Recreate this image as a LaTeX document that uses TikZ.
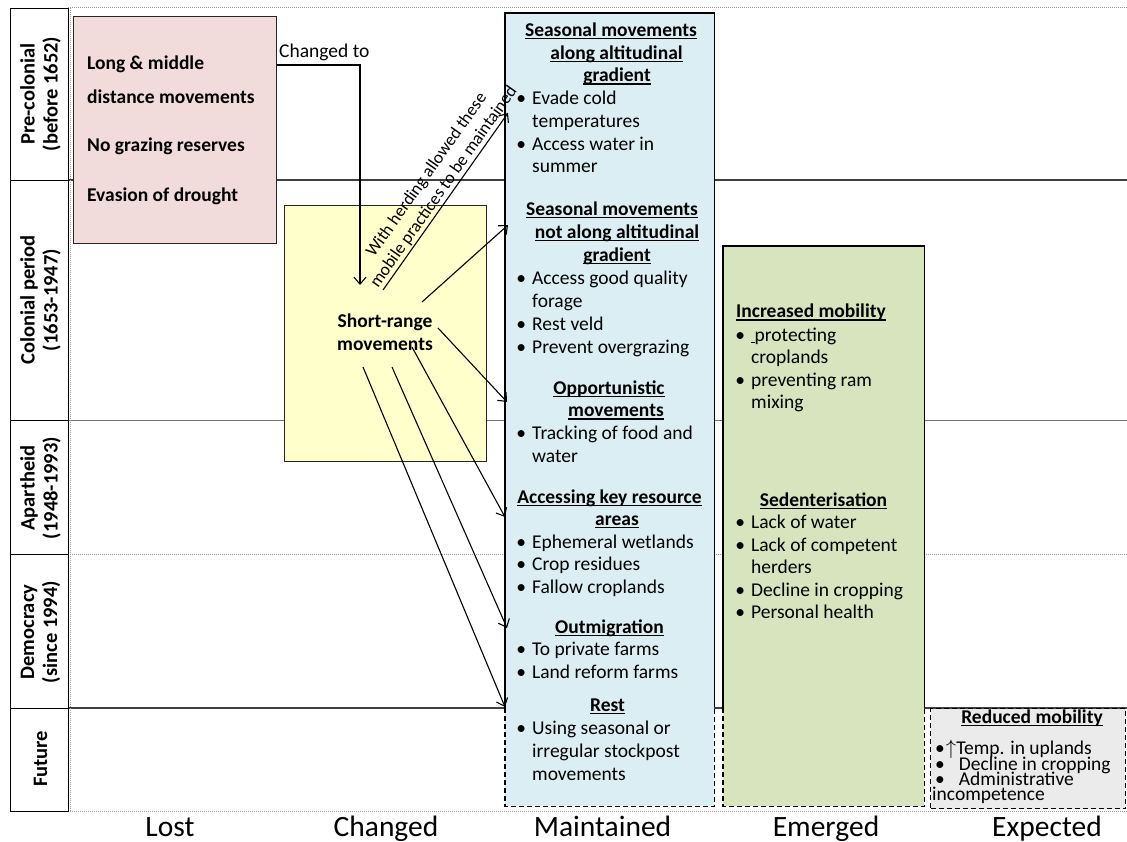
\documentclass[tikz,border=0pt]{standalone}
\usepackage{fontspec}
\setmainfont{Carlito}
\usetikzlibrary{arrows.meta,calc}
\definecolor{pinkf}{HTML}{F2DCDB}
\definecolor{yellf}{HTML}{FFFFCC}
\definecolor{bluef}{HTML}{DBEEF4}
\definecolor{greenf}{HTML}{D7E4BD}
\definecolor{grayf}{HTML}{EBEBEB}
\definecolor{edgec}{HTML}{262626}
\newcommand\ulh[1]{\setbox0=\hbox{#1}\rlap{\rule[-2.8pt]{\wd0}{1.3pt}}\box0}
\newcommand\bul{\llap{\makebox[22pt]{•}}}
\newcommand\fsz{\fontsize{19.5pt}{22.7pt}\selectfont}
\tikzset{
  txt/.style={inner sep=0pt, anchor=base west, font=\fsz},
  btxt/.style={inner sep=0pt, anchor=base west, font=\fsz\bfseries},
  hd/.style={inner sep=0pt, anchor=base, font=\fsz\bfseries},
  collab/.style={inner sep=0pt, anchor=base, font=\fontsize{29.5pt}{32pt}\selectfont},
  perlab/.style={inner sep=0pt, rotate=90, align=center, font=\fontsize{20.5pt}{23pt}\selectfont\bfseries},
  perbox/.style={draw=black, line width=1.3pt, anchor=north west, inner sep=0pt, minimum width=58pt},
  boxs/.style={draw=edgec, line width=1.2pt, anchor=north west, inner sep=0pt},
  fillbox/.style={anchor=north west, inner sep=0pt},
  edgesolid/.style={draw=black, line width=1.3pt},
  edgedash/.style={draw=black, line width=1.2pt, dash pattern=on 5pt off 3pt},
  gridsolid/.style={draw=black!75, line width=1.2pt},
  gridthin/.style={draw=black!55, line width=1pt},
  griddot/.style={draw=black!40, line width=1pt, dash pattern=on 1pt off 1pt},
  arr/.style={-{Straight Barb[length=7pt,width=12pt]}, line width=1.1pt},
}
\begin{document}
\begin{tikzpicture}[x=1pt,y=-1pt]
\useasboundingbox (0,0) rectangle (1127,842);
% grid lines
\draw[griddot] (68,8) -- (1127,8);
\draw[gridsolid] (68,180) -- (1127,180);
\draw[gridthin] (68,420) -- (1127,420);
\draw[griddot] (68,554) -- (1127,554);
\draw[gridsolid] (68,708) -- (1127,708);
\draw[griddot] (68,811) -- (1127,811);
\draw[griddot] (70,8) -- (70,811);
% period labels
\node[perbox, minimum height=172pt] (p1) at (10,8) {};
\node[perbox, minimum height=240pt] (p2) at (10,180) {};
\node[perbox, minimum height=134pt] (p3) at (10,420) {};
\node[perbox, minimum height=154pt] (p4) at (10,554) {};
\node[perbox, minimum height=103pt] (p5) at (10,708) {};
\node[perlab] (pl1) at (40.5,94) {Pre-colonial\\(before 1652)};
\node[perlab] (pl2) at (40.5,300) {Colonial period\\(1653-1947)};
\node[perlab] (pl3) at (40.5,488) {Apartheid\\(1948-1993)};
\node[perlab] (pl4) at (40.5,632) {Democracy\\(since 1994)};
\node[perlab] (pl5) at (40.5,759) {Future};
% boxes
\node[boxs, fill=pinkf, minimum width=203pt, minimum height=227pt] (lost) at (73,16) {};
\node[boxs, fill=yellf, minimum width=202pt, minimum height=256pt] (chg) at (284,205) {};
\node[fillbox, fill=bluef, minimum width=209pt, minimum height=793pt] (mnt) at (505,13) {};
\draw[edgesolid] (mnt.south west |- 0,708) -- (mnt.north west) -- (mnt.north east) -- (mnt.north east |- 0,706);
\draw[edgedash] (mnt.south west |- 0,708) -- (mnt.south west) -- (mnt.south east) -- (mnt.north east |- 0,706);
\node[fillbox, fill=greenf, minimum width=201pt, minimum height=560pt] (emg) at (723,246) {};
\draw[edgesolid] (emg.south west |- 0,708) -- (emg.north west) -- (emg.north east) -- (emg.north east |- 0,708);
\draw[edgedash] (emg.south west |- 0,708) -- (emg.south west) -- (emg.south east) -- (emg.north east |- 0,708);
\node[fillbox, fill=grayf, draw=black, line width=1.2pt, dash pattern=on 5pt off 3pt, minimum width=195pt, minimum height=100pt] (exp) at (930,708) {};
% lost text
\node[btxt] (l1) at (87,70) {Long \& middle};
\node[btxt] (l2) at (87,104) {distance movements};
\node[btxt] (l3) at (87,152) {No grazing reserves};
\node[btxt] (l4) at (87,202) {Evasion of drought};
% changed-to connector
\node[txt] (ctl) at (279,58) {Changed to};
\coordinate (ct) at (360,285);
\draw[arr] (lost.east |- 0,65) -| (ct);
% short-range text
\node[hd] (sr1) at (385,327) {Short-range};
\node[hd] (sr2) at (385,350) {movements};
% short-range arrows
\coordinate (s1) at (383,290);
\coordinate (s2) at (422,302);
\coordinate (s3) at (438,328);
\coordinate (s4) at (412,347);
\coordinate (s5) at (392,367);
\coordinate (s6) at (363,367);
\draw[arr] (s1) -- node[sloped, above=1.5pt, pos=0.55, inner sep=0pt, align=center, font=\fontsize{17.5pt}{21pt}\selectfont] (hl) {With herding allowed these\\mobile practices to be maintained} ($(mnt.north west |- 0,113)+(3,0)$);
\draw[arr] (s2) -- ($(mnt.north west |- 0,225)+(3,0)$);
\draw[arr] (s3) -- ($(mnt.north west |- 0,402)+(2,0)$);
\draw[arr] (s4) -- (mnt.north west |- 0,517);
\draw[arr] (s5) -- ($(mnt.north west |- 0,628)+(2,0)$);
\draw[arr] (s6) -- (mnt.north west |- 0,707);
% maintained text
\node[hd] (m1) at (611,36.5) {\ulh{Seasonal movements}};
\node[hd] (m2) at (616.5,59.2) {\ulh{along altitudinal}};
\node[hd] (m3) at (617,82) {\ulh{gradient}};
\node[txt] (m4) at (532,105) {\bul Evade cold};
\node[txt] (m5) at (532,127.7) {temperatures};
\node[txt] (m6) at (532,150.4) {\bul Access water in};
\node[txt] (m7) at (532,173) {summer};
\node[hd] (m8) at (612,215.5) {\ulh{Seasonal movements}};
\node[hd] (m9) at (617,238.5) {\ulh{not along altitudinal}};
\node[hd] (m10) at (617,261.5) {\ulh{gradient}};
\node[txt] (m11) at (532,285) {\bul Access good quality};
\node[txt] (m12) at (532,307.7) {forage};
\node[txt] (m13) at (532,330.4) {\bul Rest veld};
\node[txt] (m14) at (532,353) {\bul Prevent overgrazing};
\node[hd] (m15) at (609,394) {\ulh{Opportunistic}};
\node[hd] (m16) at (616,416.7) {\ulh{movements}};
\node[txt] (m17) at (532,439.5) {\bul Tracking of food and};
\node[txt] (m18) at (532,462) {water};
\node[hd] (m19) at (609.5,503) {\ulh{Accessing key resource}};
\node[hd] (m20) at (617,525.5) {\ulh{areas}};
\node[txt] (m21) at (532,548) {\bul Ephemeral wetlands};
\node[txt] (m22) at (532,570.7) {\bul Crop residues};
\node[txt] (m23) at (532,593) {\bul Fallow croplands};
\node[hd] (m24) at (609.5,633) {\ulh{Outmigration}};
\node[txt] (m25) at (532,655.5) {\bul To private farms};
\node[txt] (m26) at (532,678) {\bul Land reform farms};
\node[hd] (m27) at (607.5,711.5) {\ulh{Rest}};
\node[txt] (m28) at (532,734) {\bul Using seasonal or};
\node[txt] (m29) at (532,757) {irregular stockpost};
\node[txt] (m30) at (532,780) {movements};
% emerged text
\node[btxt] (e1) at (736,318) {\ulh{Increased mobility}};
\node[txt] (e2) at (751,341.7) {\bul\rule[-1.5pt]{3.5pt}{0.9pt}protecting};
\node[txt] (e3) at (751,363.5) {croplands};
\node[txt] (e4) at (751,386) {\bul preventing ram};
\node[txt] (e5) at (751,408.5) {mixing};
\node[hd] (e6) at (823.5,506) {\ulh{Sedenterisation}};
\node[txt] (e7) at (751,528.5) {\bul Lack of water};
\node[txt] (e8) at (751,551) {\bul Lack of competent};
\node[txt] (e9) at (751,573.5) {herders};
\node[txt] (e10) at (751,596) {\bul Decline in cropping};
\node[txt] (e11) at (751,618.5) {\bul Personal health};
% expected text
\node[hd] (x1) at (1032,723) {\ulh{Reduced mobility}};
\node[txt] (x2) at (932,754) {\hspace{3pt}•\hspace{1pt}$\uparrow$Temp. in uplands};
\node[txt] (x3) at (932,770) {\hspace{3pt}•\hspace{14pt}Decline in cropping};
\node[txt] (x4) at (932,785) {\hspace{3pt}•\hspace{14pt}Administrative};
\node[txt] (x5) at (932,800) {incompetence};
% column labels
\node[collab] (c1) at (170,836.7) {Lost};
\node[collab] (c2) at (386,836.7) {Changed};
\node[collab] (c3) at (602.5,836.7) {Maintained};
\node[collab] (c4) at (826,836.7) {Emerged};
\node[collab] (c5) at (1047,836.7) {Expected};
\end{tikzpicture}
\end{document}
